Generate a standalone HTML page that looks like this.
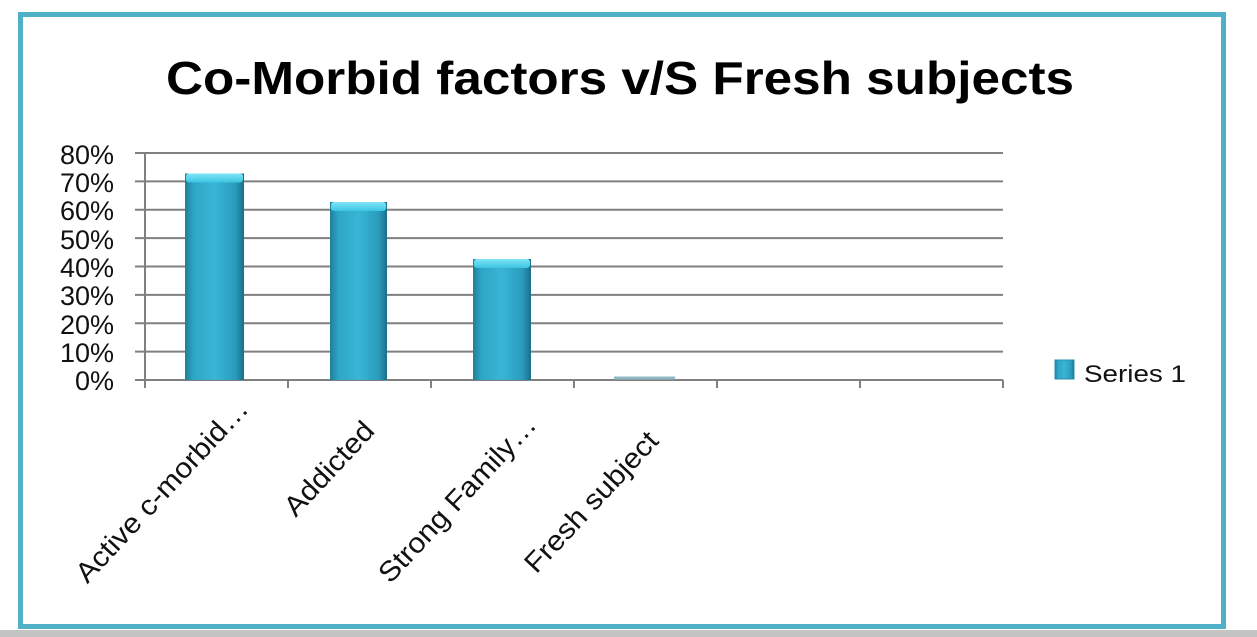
<!DOCTYPE html>
<html><head><meta charset="utf-8"><style>
html,body{margin:0;padding:0;background:#fff;width:1257px;height:637px;overflow:hidden}
svg{display:block;font-family:"Liberation Sans",sans-serif}
</style></head><body>
<svg width="1257" height="637" viewBox="0 0 1257 637">
<defs>
<linearGradient id="bar" x1="0" x2="1" y1="0" y2="0">
<stop offset="0" stop-color="#1f7f9c"/><stop offset="0.15" stop-color="#2fa6c6"/>
<stop offset="0.5" stop-color="#39b5d6"/><stop offset="0.85" stop-color="#2a9cbd"/>
<stop offset="1" stop-color="#1b6f88"/></linearGradient>
<linearGradient id="top" x1="0" x2="0" y1="0" y2="1">
<stop offset="0" stop-color="#7fe6f6"/><stop offset="1" stop-color="#3cc4e2"/></linearGradient>
</defs>
<rect x="0" y="0" width="1257" height="637" fill="#fff"/>
<rect x="0" y="630" width="1257" height="7" fill="#c4c4c4"/>
<rect x="20.5" y="14.5" width="1203" height="612" fill="none" stroke="#4fb0c8" stroke-width="5"/>
<text x="620" y="94" text-anchor="middle" font-size="46" font-weight="bold" textLength="908" lengthAdjust="spacingAndGlyphs" fill="#000">Co-Morbid factors v/S Fresh subjects</text>
<g stroke="#808080" stroke-width="2" fill="none">
<path d="M135 153H1003M135 181.4H1003M135 209.8H1003M135 238.1H1003M135 266.5H1003M135 294.9H1003M135 323.3H1003M135 351.6H1003M135 380H1003"/>
<path d="M145 153V388M288 380V388M431 380V388M574 380V388M717 380V388M860 380V388M1003 380V388"/>
</g>
<g font-size="27" fill="#111" text-anchor="end">
<text x="114" y="164">80%</text><text x="114" y="192">70%</text><text x="114" y="220">60%</text>
<text x="114" y="249">50%</text><text x="114" y="277">40%</text><text x="114" y="305">30%</text>
<text x="114" y="334">20%</text><text x="114" y="362">10%</text><text x="114" y="390">0%</text>
</g>
<g>
<rect x="185" y="173.5" width="59" height="206.5" fill="url(#bar)"/>
<rect x="186" y="173.5" width="57" height="9" rx="3" fill="url(#top)"/>
<rect x="330" y="202" width="57" height="178" fill="url(#bar)"/>
<rect x="331" y="202" width="55" height="9" rx="3" fill="url(#top)"/>
<rect x="473" y="259" width="58" height="121" fill="url(#bar)"/>
<rect x="474" y="259" width="56" height="9" rx="3" fill="url(#top)"/>
<rect x="614" y="376.5" width="61" height="3" fill="#8fb8c4"/>
</g>
<g font-size="28" fill="#111" text-anchor="end">
<text transform="translate(250,410) rotate(-47) scale(1.08,1)">Active c-morbid…</text>
<text transform="translate(376,432) rotate(-47) scale(1.08,1)">Addicted</text>
<text transform="translate(538,426) rotate(-47) scale(1.08,1)">Strong Family…</text>
<text transform="translate(660,442) rotate(-47) scale(1.08,1)">Fresh subject</text>
</g>
<rect x="1055" y="360" width="19" height="19" fill="url(#bar)" stroke="#2a8fae" stroke-width="1"/>
<text x="1084" y="382" font-size="24" fill="#111" textLength="102" lengthAdjust="spacingAndGlyphs">Series 1</text>
</svg>
</body></html>
